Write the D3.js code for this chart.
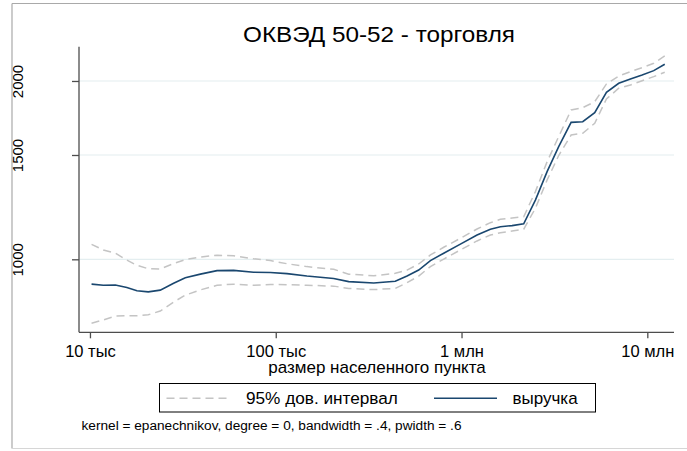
<!DOCTYPE html>
<head>
    <meta charset='utf-8'>
    <title>ОКВЭД 50-52</title>
    <script src='https://d3js.org/d3.v7.min.js'></script>
    <style>
        body {
            margin: 0;
            background-color: white;
            font-family: 'Liberation Sans', Arial, sans-serif;
        }
    </style>
</head>

<body>
<script>
//DATA
var xTicks = [1e4, 1e5, 1e6, 1e7];
var xTickLabels = ['10 тыс', '100 тыс', '1 млн', '10 млн'];
var yTicks = [1000, 1500, 2000];

var pop = [10200, 11800, 13700, 15800, 17900, 20600, 23900, 28200, 32600, 39300,
    48300, 59300, 76000, 93500, 115000, 147000, 205000, 247000, 337000, 440000,
    509000, 588000, 680000, 802000, 986000, 1212000, 1430000, 1619000, 1871000, 2161000,
    2498000, 2888000, 3334000, 3889000, 4491000, 5211000, 6026000, 7018000, 8112000, 9378000,
    10830000, 12410000];

var revenue = [908, 904, 905, 896, 885, 881, 887, 911, 931, 944,
    957, 958, 951, 950, 946, 937, 928, 917, 912, 918,
    937, 959, 995, 1024, 1061, 1099, 1124, 1135, 1140, 1148,
    1259, 1406, 1549, 1703, 1707, 1768, 1914, 1982, 2016, 2047,
    2082, 2134];

var ciUpper = [1060, 1037, 1024, 997, 977, 964, 963, 984, 999, 1009,
    1016, 1014, 1002, 995, 983, 972, 962, 944, 938, 947,
    959, 982, 1017, 1048, 1085, 1125, 1153, 1168, 1174, 1180,
    1301, 1461, 1611, 1787, 1803, 1845, 1977, 2039, 2074, 2106,
    2143, 2204];

var ciLower = [780, 790, 802, 803, 803, 806, 818, 847, 870, 888,
    904, 908, 904, 907, 906, 904, 901, 893, 889, 893,
    913, 937, 972, 1001, 1037, 1074, 1099, 1109, 1116, 1124,
    1219, 1361, 1497, 1621, 1632, 1697, 1865, 1944, 1969, 2002,
    2034, 2069];

//WINDOW
var W = 687, H = 451;
var svg = d3.select('body')
    .append('svg')
    .attr('width', W)
    .attr('height', H)

var pLeft = 79, pRight = 674, pTop = 46.7, pBottom = 332.3;

var x = d3.scaleLog().domain([8730, 13920000]).range([pLeft, pRight]);
var y = d3.scaleLog().domain([753, 2285]).range([pBottom, pTop]);

//FRAME
svg.append('line').attr('x1', 12).attr('x2', W).attr('y1', 3.5).attr('y2', 3.5)
    .style('stroke', '#a9a9a9').style('stroke-width', 1.2);
svg.append('line').attr('x1', 12).attr('x2', 12).attr('y1', 3.5).attr('y2', 448.5)
    .style('stroke', '#a9a9a9').style('stroke-width', 1.2);
svg.append('line').attr('x1', 12).attr('x2', W).attr('y1', 448.5).attr('y2', 448.5)
    .style('stroke', '#d6d6d6').style('stroke-width', 1.2);

//GRID
svg.selectAll('.grid')
    .data(yTicks).enter()
    .append('line')
    .attr('class', 'grid')
    .attr('x1', pLeft).attr('x2', pRight)
    .attr('y1', d => y(d)).attr('y2', d => y(d))
    .style('stroke', '#e4eef0')
    .style('stroke-width', 1.2)

//AXES
var xAxis = svg.append('g')
    .attr('transform', 'translate(0,' + pBottom + ')')
    .call(d3.axisBottom(x).tickValues(xTicks).tickFormat((d, i) => xTickLabels[i]).tickSize(6).tickSizeOuter(0))
xAxis.select('.domain').attr('d', 'M' + pLeft + ',0H' + pRight)

var yAxis = svg.append('g')
    .attr('transform', 'translate(' + pLeft + ',0)')
    .call(d3.axisLeft(y).tickValues(yTicks).tickFormat(d3.format('d')).tickSize(7).tickSizeOuter(0))
yAxis.select('.domain').attr('d', 'M0,' + pTop + 'V' + pBottom)

svg.selectAll('.domain, .tick line')
    .style('stroke', '#4d4d4d')
    .style('stroke-width', 1.3)

xAxis.selectAll('text')
    .attr('y', 25).attr('dy', 0)
    .style('font-family', 'Liberation Sans, Arial, sans-serif')
    .style('font-size', '16.5px')
    .style('fill', 'black')

yAxis.selectAll('text')
    .attr('x', 0).attr('y', 0).attr('dy', 0)
    .attr('transform', 'translate(-56.5,0) rotate(-90)')
    .attr('text-anchor', 'middle')
    .style('font-family', 'Liberation Sans, Arial, sans-serif')
    .style('font-size', '15px')
    .style('fill', 'black')

//LINES
var line = vals => d3.line().x((d, i) => x(pop[i])).y(d => y(d))(vals)

svg.append('path').attr('d', line(ciUpper))
    .style('fill', 'none').style('stroke', '#c4c4c4').style('stroke-width', 1.5).style('stroke-dasharray', '8,5')
svg.append('path').attr('d', line(ciLower))
    .style('fill', 'none').style('stroke', '#c4c4c4').style('stroke-width', 1.5).style('stroke-dasharray', '8,5')
svg.append('path').attr('d', line(revenue))
    .style('fill', 'none').style('stroke', '#1a476f').style('stroke-width', 1.6)

//TEXT
svg.append('text')
    .attr('x', 379).attr('y', 41.5)
    .attr('text-anchor', 'middle')
    .attr('textLength', 272).attr('lengthAdjust', 'spacingAndGlyphs')
    .style('font-size', '22px')
    .text('ОКВЭД 50-52 - торговля')

svg.append('text')
    .attr('x', 377).attr('y', 372.5)
    .attr('text-anchor', 'middle')
    .style('font-size', '17px')
    .text('размер населенного пункта')

//LEGEND
var legend = svg.append('g')
legend.append('rect')
    .attr('x', 159.5).attr('y', 383.5).attr('width', 436).attr('height', 28.5)
    .style('fill', 'white').style('stroke', 'black').style('stroke-width', 1)
legend.append('line')
    .attr('x1', 166.5).attr('x2', 231).attr('y1', 398.3).attr('y2', 398.3)
    .style('stroke', '#c4c4c4').style('stroke-width', 1.5).style('stroke-dasharray', '8,5')
legend.append('text')
    .attr('x', 246).attr('y', 404)
    .style('font-size', '17.2px')
    .text('95% дов. интервал')
legend.append('line')
    .attr('x1', 434).attr('x2', 497).attr('y1', 398.3).attr('y2', 398.3)
    .style('stroke', '#1a476f').style('stroke-width', 1.6)
legend.append('text')
    .attr('x', 512.5).attr('y', 404)
    .style('font-size', '17px')
    .text('выручка')

svg.append('text')
    .attr('x', 81.5).attr('y', 430)
    .attr('textLength', 380).attr('lengthAdjust', 'spacingAndGlyphs')
    .style('font-size', '12.5px')
    .text('kernel = epanechnikov, degree = 0, bandwidth = .4, pwidth = .6')
</script>
</body>
